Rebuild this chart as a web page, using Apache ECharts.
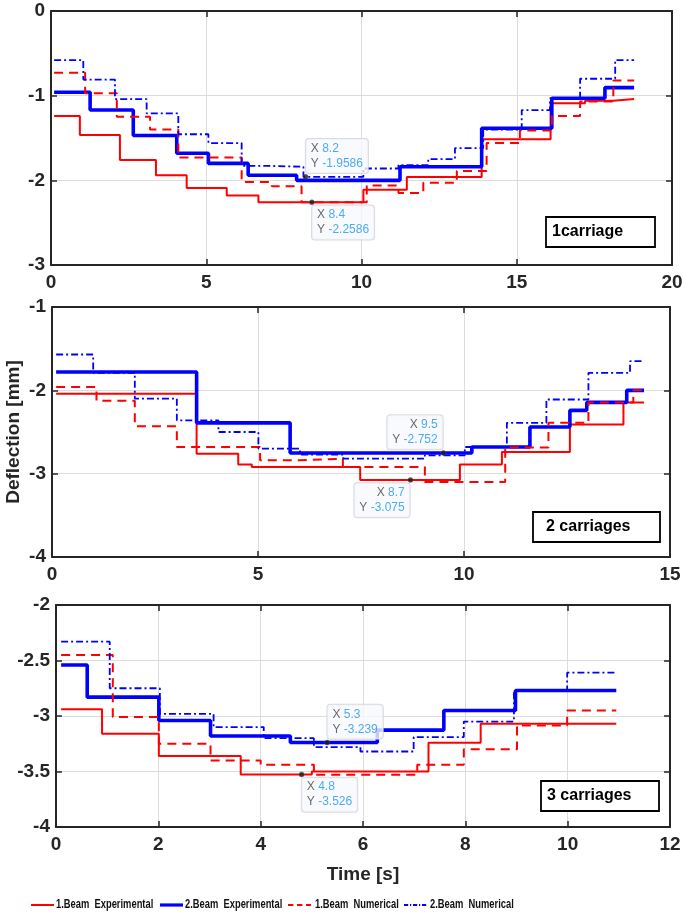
<!DOCTYPE html>
<html><head><meta charset="utf-8">
<script src="https://cdn.jsdelivr.net/npm/echarts@6/dist/echarts.min.js"></script>
<style>html,body{margin:0;padding:0;background:#fff}#c{width:685px;height:918px}</style>
</head><body><div id="c"></div>
<script>
// ---------- DATA ----------
const seriesNames = ['1.Beam  Experimental', '2.Beam  Experimental', '1.Beam  Numerical', '2.Beam  Numerical'];
const panelLabels = ['1carriage', '2 carriages', '3 carriages'];
const yAxisName = 'Deflection [mm]';
const xAxisName = 'Time [s]';

// axis ranges [min, max, interval]
const p1_xRange = [0, 20, 5];   const p1_yRange = [-3, 0, 1];
const p2_xRange = [0, 15, 5];   const p2_yRange = [-4, -1, 1];
const p3_xRange = [0, 12, 2];   const p3_yRange = [-4, -2, 0.5];

// Panel 1 (1 carriage): step start times and levels
const p1_exp1_t = [0.1, 0.93, 2.22, 3.38, 4.37, 5.66, 6.68, 10.06, 11.46, 13.87, 16.09, 17.2, 18.11, 18.78];
const p1_exp1_v = [-1.24, -1.465, -1.76, -1.94, -2.09, -2.18, -2.2586, -2.11, -1.96, -1.515, -1.09, -1.06, -1.04, -1.04];
const p1_exp2_t = [0.1, 1.26, 2.65, 4.05, 5.07, 6.35, 7.91, 11.24, 13.87, 16.13, 17.84, 18.78];
const p1_exp2_v = [-0.96, -1.17, -1.47, -1.68, -1.80, -1.94, -2.0, -1.84, -1.385, -1.03, -0.905, -0.905];
const p1_num1_t = [0.1, 1.10, 2.12, 3.19, 4.10, 6.14, 7.11, 8.07, 10.17, 11.19, 11.99, 13.07, 14.03, 15.1, 16.13, 17.04, 18.11, 18.78];
const p1_num1_v = [-0.73, -0.97, -1.25, -1.40, -1.73, -2.02, -2.07, -2.26, -2.06, -2.15, -2.03, -1.89, -1.56, -1.41, -1.24, -1.07, -0.82, -0.82];
const p1_num2_t = [0.1, 1.04, 2.06, 3.08, 4.10, 5.07, 6.14, 7.11, 8.13, 10.06, 11.19, 12.15, 13.01, 13.92, 15.16, 16.07, 17.04, 18.17, 18.78];
const p1_num2_v = [-0.58, -0.81, -1.04, -1.21, -1.456, -1.56, -1.83, -1.84, -1.9586, -1.86, -1.82, -1.75, -1.62, -1.40, -1.17, -1.03, -0.80, -0.58, -0.58];

// Panel 2 (2 carriages)
const p2_exp1_t = [0.1, 3.51, 4.52, 4.85, 7.48, 9.9, 10.92, 12.57, 13.87, 14.37];
const p2_exp1_v = [-2.04, -2.76, -2.89, -2.92, -3.075, -2.89, -2.74, -2.41, -2.145, -2.145];
const p2_exp2_t = [0.1, 3.51, 5.78, 10.19, 11.6, 12.57, 12.98, 13.95, 14.37];
const p2_exp2_v = [-1.78, -2.39, -2.752, -2.68, -2.44, -2.24, -2.145, -2.0, -2.0];
const p2_num1_t = [0.1, 1.08, 2.01, 3.03, 5.05, 6.02, 7.06, 9.05, 11.0, 12.05, 13.02, 14.11, 14.37];
const p2_num1_v = [-1.96, -2.125, -2.43, -2.68, -2.84, -2.82, -2.92, -3.10, -2.685, -2.39, -2.145, -2.0, -2.0];
const p2_num2_t = [0.1, 1.0, 2.01, 3.03, 4.04, 5.01, 6.02, 7.07, 9.05, 10.02, 11.04, 12.0, 13.02, 14.03, 14.37];
const p2_num2_v = [-1.57, -1.79, -2.10, -2.36, -2.50, -2.70, -2.77, -2.82, -2.78, -2.68, -2.39, -2.11, -1.79, -1.65, -1.65];

// Panel 3 (3 carriages)
const p3_exp1_t = [0.1, 0.9, 2.01, 3.61, 5.0, 7.28, 8.30, 10.95];
const p3_exp1_v = [-2.94, -3.16, -3.36, -3.526, -3.50, -3.24, -3.07, -3.07];
const p3_exp2_t = [0.1, 0.61, 2.01, 3.02, 4.58, 6.28, 7.58, 8.98, 10.95];
const p3_exp2_v = [-2.54, -2.83, -3.04, -3.18, -3.239, -3.127, -2.95, -2.77, -2.77];
const p3_num1_t = [0.1, 1.11, 2.01, 3.02, 4.0, 5.04, 7.06, 7.97, 9.01, 9.99, 10.95];
const p3_num1_v = [-2.45, -3.01, -3.25, -3.40, -3.44, -3.53, -3.44, -3.30, -3.085, -2.95, -2.95];
const p3_num2_t = [0.1, 1.05, 2.03, 3.08, 4.06, 5.04, 5.95, 6.99, 7.97, 8.95, 9.99, 10.95];
const p3_num2_v = [-2.33, -2.75, -2.98, -3.10, -3.20, -3.28, -3.32, -3.19, -3.05, -2.77, -2.61, -2.61];

// Data tips
const p1_tip_x = [8.2, 8.4];   const p1_tip_y = [-1.9586, -2.2586];
const p2_tip_x = [9.5, 8.7];   const p2_tip_y = [-2.752, -3.075];
const p3_tip_x = [5.3, 4.8];   const p3_tip_y = [-3.239, -3.526];

// ---------- LAYOUT / STYLE ----------
const grids = [
  { left: 51, top: 11, width: 621, height: 254, outerBoundsMode: 'none', containLabel: false },
  { left: 52, top: 307, width: 618, height: 250, outerBoundsMode: 'none', containLabel: false },
  { left: 56, top: 605, width: 614, height: 222, outerBoundsMode: 'none', containLabel: false }
];
const tipDir = [['ur', 'dr'], ['ul', 'dl'], ['ur', 'dr']];
const labelBoxes = [
  { left: 546, top: 217, pl: 6, pr: 32 },
  { left: 533, top: 512, pl: 13, pr: 30 },
  { left: 541, top: 781, pl: 6, pr: 28 }
];
const legendPos = [[31, 56], [160, 185], [288, 315], [404, 430]];
const legendY = 905;
const FONT = '"Liberation Sans", Arial, Helvetica, sans-serif';
const AX = '#262626';
const seriesStyles = [
  { color: '#ff0000', width: 2, type: 'solid' },
  { color: '#0000ff', width: 3.6, type: 'solid' },
  { color: '#ff0000', width: 2, type: [9, 6] },
  { color: '#0000ff', width: 1.8, type: [7, 3, 2, 3] }
];

const panels = [
  { x: p1_xRange, y: p1_yRange, s: [[p1_exp1_t, p1_exp1_v], [p1_exp2_t, p1_exp2_v], [p1_num1_t, p1_num1_v], [p1_num2_t, p1_num2_v]], tx: p1_tip_x, ty: p1_tip_y },
  { x: p2_xRange, y: p2_yRange, s: [[p2_exp1_t, p2_exp1_v], [p2_exp2_t, p2_exp2_v], [p2_num1_t, p2_num1_v], [p2_num2_t, p2_num2_v]], tx: p2_tip_x, ty: p2_tip_y },
  { x: p3_xRange, y: p3_yRange, s: [[p3_exp1_t, p3_exp1_v], [p3_exp2_t, p3_exp2_v], [p3_num1_t, p3_num1_v], [p3_num2_t, p3_num2_v]], tx: p3_tip_x, ty: p3_tip_y }
];

const labelStyle = { color: AX, fontSize: 19, fontWeight: 'bold', fontFamily: FONT };
const xAxes = [], yAxes = [], series = [], titles = [];

panels.forEach((p, i) => {
  const tick = { show: true, inside: true, length: 6, lineStyle: { color: AX, width: 1.5 } };
  const line = { show: true, onZero: false, lineStyle: { color: AX, width: 2 } };
  xAxes.push({
    type: 'value', gridIndex: i, position: 'bottom', min: p.x[0], max: p.x[1], interval: p.x[2],
    axisLine: line, axisTick: tick,
    axisLabel: Object.assign({ margin: 8, showMinLabel: true, showMaxLabel: true, hideOverlap: false }, labelStyle),
    splitLine: { show: true, lineStyle: { color: '#dcdcdc', width: 1 } },
    name: i === 2 ? xAxisName : '', nameLocation: 'middle', nameGap: 38,
    nameTextStyle: { color: AX, fontSize: 19, fontWeight: 'bold', fontFamily: FONT }
  });
  yAxes.push({
    type: 'value', gridIndex: i, position: 'left', min: p.y[0], max: p.y[1], interval: p.y[2],
    axisLine: line, axisTick: tick,
    axisLabel: Object.assign({ margin: 6, showMinLabel: true, showMaxLabel: true, hideOverlap: false }, labelStyle),
    splitLine: { show: true, lineStyle: { color: '#dcdcdc', width: 1 } },
    name: i === 1 ? yAxisName : '', nameLocation: 'middle', nameGap: 29, nameRotate: 90, nameMoveOverlap: false,
    nameTextStyle: { color: AX, fontSize: 19, fontWeight: 'bold', fontFamily: FONT }
  });
  p.s.forEach((td, k) => {
    const st = seriesStyles[k];
    series.push({
      type: 'line', name: seriesNames[k], xAxisIndex: i, yAxisIndex: i,
      data: td[0].map((t, j) => [t, td[1][j]]), step: 'end', symbol: 'none', showSymbol: false,
      lineStyle: { color: st.color, width: st.width, type: st.type }, itemStyle: { color: st.color },
      z: 2 + k, silent: true, animation: false
    });
  });
  series.push({
    type: 'scatter', xAxisIndex: i, yAxisIndex: i, symbolSize: 5, z: 10, animation: false, silent: true,
    itemStyle: { color: '#1a1a1a', borderColor: '#555', borderWidth: 0.5 },
    data: p.tx.map((x, j) => {
      const d = tipDir[i][j];
      const up = d[0] === 'u', right = d[1] === 'r';
      return {
        value: [x, p.ty[j]],
        label: {
          show: true, position: [right ? 3 : 2, up ? -1 : 6],
          align: right ? 'left' : 'right', verticalAlign: up ? 'bottom' : 'top',
          formatter: '{k|X} {v|' + x + '}\n{k|Y} {v|' + p.ty[j] + '}',
          backgroundColor: '#f8f9fd', borderColor: '#cfd2da', borderWidth: 1, borderRadius: 3,
          padding: [2, 5, 2, 5], lineHeight: 15,
          rich: {
            k: { color: '#444', fontSize: 12, fontFamily: FONT, lineHeight: 15 },
            v: { color: '#1e96f0', fontSize: 12, fontFamily: FONT, lineHeight: 15 }
          }
        }
      };
    })
  });
  titles.push({
    text: panelLabels[i], left: labelBoxes[i].left, top: labelBoxes[i].top,
    borderColor: '#000', borderWidth: 1.8, backgroundColor: '#fff',
    padding: [7, labelBoxes[i].pr, 7, labelBoxes[i].pl],
    textStyle: { color: '#000', fontSize: 16, fontWeight: 'bold', fontFamily: FONT, lineHeight: 16 }
  });
});
// mirrored axes (box ticks on top/right)
panels.forEach((p, i) => {
  const tick = { show: true, inside: true, length: 6, lineStyle: { color: AX, width: 1.5 } };
  xAxes.push({ type: 'value', gridIndex: i, position: 'top', min: p.x[0], max: p.x[1], interval: p.x[2],
    axisLine: { show: true, onZero: false, lineStyle: { color: AX, width: 2 } }, axisTick: tick,
    axisLabel: { show: false }, splitLine: { show: false } });
  yAxes.push({ type: 'value', gridIndex: i, position: 'right', min: p.y[0], max: p.y[1], interval: p.y[2],
    axisLine: { show: true, onZero: false, lineStyle: { color: AX, width: 2 } }, axisTick: tick,
    axisLabel: { show: false }, splitLine: { show: false } });
});

// legend drawn as graphic items (condensed text like the reference)
const legendGraphic = [];
seriesNames.forEach((n, k) => {
  const st = seriesStyles[k];
  const pos = legendPos[k];
  legendGraphic.push({
    type: 'line', silent: true,
    shape: { x1: pos[0], y1: legendY, x2: pos[0] + 23, y2: legendY },
    style: { stroke: st.color, lineWidth: Math.min(st.width, 3.2), lineDash: Array.isArray(st.type) ? st.type.map(v => v * 0.6) : null }
  });
  legendGraphic.push({
    type: 'text', silent: true, x: pos[1], y: legendY, scaleX: 0.78,
    style: { text: n, font: 'bold 12px ' + FONT, fill: '#111', align: 'left', verticalAlign: 'middle' }
  });
});

const chart = echarts.init(document.getElementById('c'), null, { renderer: 'canvas' });
chart.setOption({
  backgroundColor: '#fff',
  animation: false,
  title: titles,
  grid: grids,
  xAxis: xAxes,
  yAxis: yAxes,
  graphic: legendGraphic,
  series: series
});
</script></body></html>
